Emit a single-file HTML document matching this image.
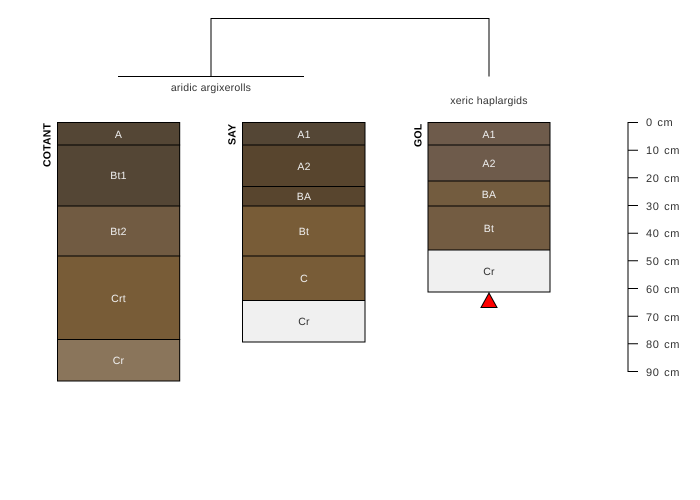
<!DOCTYPE html>
<html><head><meta charset="utf-8"><style>
html,body{margin:0;padding:0;background:#fff;width:700px;height:500px;overflow:hidden}
svg{display:block}
text{font-family:"Liberation Sans",sans-serif;font-size:10.5px;letter-spacing:.25px;text-rendering:geometricPrecision}
.h text{fill:#eee;text-anchor:middle}
.s text{font-size:11px;letter-spacing:.6px;word-spacing:1px}
.b{font-weight:bold;letter-spacing:.2px}
</style></head><body>
<svg width="700" height="500" viewBox="0 0 700 500" xmlns="http://www.w3.org/2000/svg">
<g fill="none" stroke="#000" stroke-width="1">
<path d="M118 76.5H304"/>
<path d="M211 76.5V18.5H489V76.5"/>
</g>
<text x="211" y="91" text-anchor="middle" fill="#333">aridic argixerolls</text>
<text x="489" y="104" text-anchor="middle" fill="#333">xeric haplargids</text>

<g stroke="#000" stroke-width="1">
<rect x="57.5" y="122.5" width="122.2" height="22.5" fill="#544635"/>
<rect x="57.5" y="145" width="122.2" height="61" fill="#544635"/>
<rect x="57.5" y="206" width="122.2" height="50" fill="#715b42"/>
<rect x="57.5" y="256" width="122.2" height="83.5" fill="#785c37"/>
<rect x="57.5" y="339.5" width="122.2" height="41.5" fill="#8a755b"/>

<rect x="242.5" y="122.5" width="122.5" height="22.5" fill="#544635"/>
<rect x="242.5" y="145" width="122.5" height="41.5" fill="#58452e"/>
<rect x="242.5" y="186.5" width="122.5" height="19.5" fill="#58452e"/>
<rect x="242.5" y="206" width="122.5" height="50" fill="#785c37"/>
<rect x="242.5" y="256" width="122.5" height="44.5" fill="#785c37"/>
<rect x="242.5" y="300.5" width="122.5" height="41.5" fill="#f0f0f0"/>

<rect x="428" y="122.5" width="122" height="22.5" fill="#6e5b4b"/>
<rect x="428" y="145" width="122" height="36" fill="#6e5b4b"/>
<rect x="428" y="181" width="122" height="25" fill="#735c3f"/>
<rect x="428" y="206" width="122" height="44" fill="#735c42"/>
<rect x="428" y="250" width="122" height="42" fill="#f0f0f0"/>
</g>

<g class="h">
<text x="118.5" y="138">A</text>
<text x="118.5" y="179">Bt1</text>
<text x="118.5" y="235">Bt2</text>
<text x="118.5" y="302">Crt</text>
<text x="118.5" y="364">Cr</text>
<text x="304" y="138">A1</text>
<text x="304" y="170">A2</text>
<text x="304" y="200">BA</text>
<text x="304" y="235">Bt</text>
<text x="304" y="282">C</text>
<text x="489" y="138">A1</text>
<text x="489" y="167">A2</text>
<text x="489" y="198">BA</text>
<text x="489" y="232">Bt</text>
</g>
<text x="304" y="325" text-anchor="middle" fill="#333">Cr</text>
<text x="489" y="275" text-anchor="middle" fill="#333">Cr</text>

<text class="b" transform="translate(50.5,167) rotate(-90)" fill="#000">COTANT</text>
<text class="b" transform="translate(235.5,145) rotate(-90)" fill="#000">SAY</text>
<text class="b" transform="translate(421.5,147) rotate(-90)" fill="#000">GOL</text>

<polygon points="489,293 481,307.5 497,307.5" fill="#f00" stroke="#000" stroke-width="1"/>

<g stroke="#000" stroke-width="1" fill="none">
<path d="M628 122V372"/>
<path d="M628 122.5H638M628 150.2H638M628 177.8H638M628 205.5H638M628 233.2H638M628 260.8H638M628 288.5H638M628 316.2H638M628 343.8H638M628 371.5H638"/>
</g>
<g class="s" fill="#333">
<text x="646" y="126">0 cm</text>
<text x="646" y="154">10 cm</text>
<text x="646" y="182">20 cm</text>
<text x="646" y="210">30 cm</text>
<text x="646" y="237">40 cm</text>
<text x="646" y="265">50 cm</text>
<text x="646" y="293">60 cm</text>
<text x="646" y="321">70 cm</text>
<text x="646" y="348">80 cm</text>
<text x="646" y="376">90 cm</text>
</g>
</svg>
</body></html>
